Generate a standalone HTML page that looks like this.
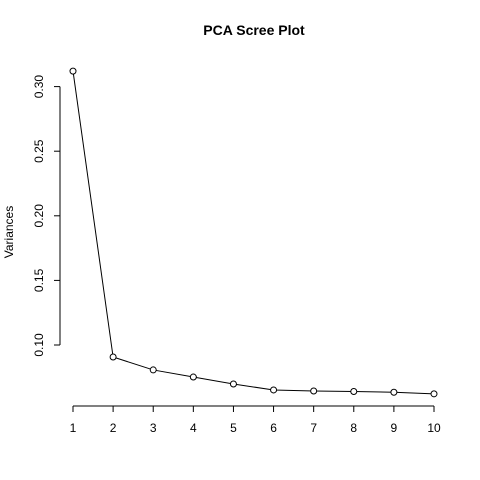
<!DOCTYPE html>
<html><head><meta charset="utf-8"><style>
html,body{margin:0;padding:0;background:#fff;}
svg{display:block;font-family:"Liberation Sans",Arial,sans-serif;}
</style></head><body>
<svg id="chart" width="480" height="480" viewBox="0 0 480 480">
<text x="254" y="35" text-anchor="middle" font-size="14" font-weight="bold">PCA Scree Plot</text>
<text transform="translate(13,232) rotate(-90)" text-anchor="middle" font-size="12">Variances</text>
<g id="axes"></g>
<g id="marks"></g>
</svg>
<script>
const components = [1,2,3,4,5,6,7,8,9,10];
const variances = [0.312,0.0907,0.0807,0.0752,0.0698,0.0652,0.0644,0.0640,0.0634,0.0622];
const yTicks = [0.10,0.15,0.20,0.25,0.30];
const yTickLabels = ["0.10","0.15","0.20","0.25","0.30"];
const xTicks = [1,2,3,4,5,6,7,8,9,10];

const NS="http://www.w3.org/2000/svg";
function xs(v){return 73+(v-1)*(434-73)/9;}
function ys(v){return 345-(v-0.10)*1292;}
function mk(tag,attrs,parent){const e=document.createElementNS(NS,tag);for(const k in attrs)e.setAttribute(k,attrs[k]);parent.appendChild(e);return e;}
const axes=document.getElementById('axes'), marks=document.getElementById('marks');

const xl=mk('line',{x1:xs(xTicks[0]),x2:xs(xTicks[xTicks.length-1]),y1:406,y2:406,stroke:'#000'},axes);


xTicks.forEach(t=>{
  const l=mk('line',{x1:xs(t),x2:xs(t),y1:406,y2:412,stroke:'#000'},axes);
  
  
  const tx=mk('text',{x:xs(t),y:432,'text-anchor':'middle','font-size':12},axes);
  tx.textContent=t;
  
  
});
const yl=mk('line',{x1:60,x2:60,y1:ys(yTicks[0]),y2:ys(yTicks[yTicks.length-1]),stroke:'#000'},axes);


yTicks.forEach((t,i)=>{
  const l=mk('line',{x1:54,x2:60,y1:ys(t),y2:ys(t),stroke:'#000'},axes);
  
  
  const tx=mk('text',{transform:`translate(43,${ys(t)}) rotate(-90)`,'text-anchor':'middle','font-size':12},axes);
  tx.textContent=yTickLabels[i];
  
  
});
const pts=components.map((c,i)=>xs(c)+','+ys(variances[i])).join(' ');
const pl=mk('polyline',{points:pts,fill:'none',stroke:'#000','stroke-width':1},marks);


components.forEach((c,i)=>{
  const p=mk('circle',{cx:xs(c),cy:ys(variances[i]),r:3,fill:'#fff',stroke:'#000'},marks);
  
  
});
</script>
</body></html>
